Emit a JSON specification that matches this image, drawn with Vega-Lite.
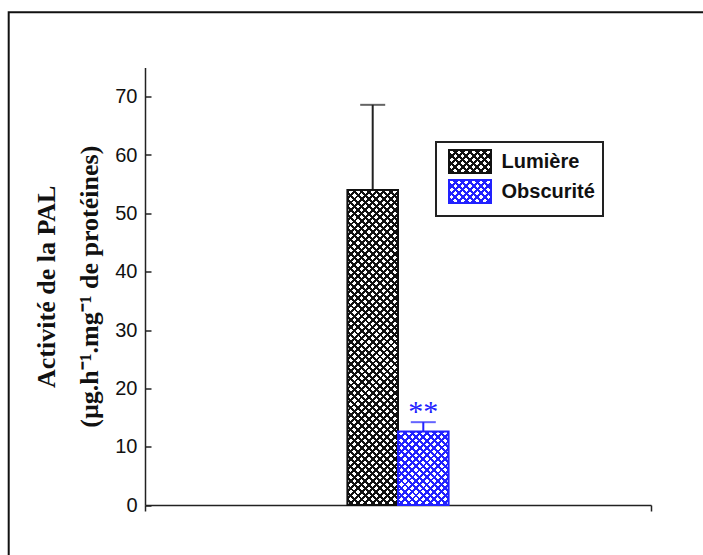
{
  "$schema": "https://vega.github.io/schema/vega-lite/v6.json",
  "width": 506,
  "height": 437.5,
  "autosize": {"type": "none"},
  "padding": {"left": 145, "top": 67.5, "right": 52, "bottom": 50},
  "background": "white",
  "config": {"view": {"stroke": null}, "axis": {"grid": false}, "legend": {"strokeWidth": 2}},
  "params": [
    {"name": "stK", "value": [
{"offset":0,"color":"#111"},{"offset":0.008,"color":"#111"},{"offset":0.008,"color":"#0000"},{"offset":0.02,"color":"#0000"},
{"offset":0.02,"color":"#111"},{"offset":0.028,"color":"#111"},{"offset":0.028,"color":"#0000"},{"offset":0.04,"color":"#0000"},
{"offset":0.04,"color":"#111"},{"offset":0.048,"color":"#111"},{"offset":0.048,"color":"#0000"},{"offset":0.06,"color":"#0000"},
{"offset":0.06,"color":"#111"},{"offset":0.068,"color":"#111"},{"offset":0.068,"color":"#0000"},{"offset":0.08,"color":"#0000"},
{"offset":0.08,"color":"#111"},{"offset":0.088,"color":"#111"},{"offset":0.088,"color":"#0000"},{"offset":0.1,"color":"#0000"},
{"offset":0.1,"color":"#111"},{"offset":0.108,"color":"#111"},{"offset":0.108,"color":"#0000"},{"offset":0.12,"color":"#0000"},
{"offset":0.12,"color":"#111"},{"offset":0.128,"color":"#111"},{"offset":0.128,"color":"#0000"},{"offset":0.14,"color":"#0000"},
{"offset":0.14,"color":"#111"},{"offset":0.148,"color":"#111"},{"offset":0.148,"color":"#0000"},{"offset":0.16,"color":"#0000"},
{"offset":0.16,"color":"#111"},{"offset":0.168,"color":"#111"},{"offset":0.168,"color":"#0000"},{"offset":0.18,"color":"#0000"},
{"offset":0.18,"color":"#111"},{"offset":0.188,"color":"#111"},{"offset":0.188,"color":"#0000"},{"offset":0.2,"color":"#0000"},
{"offset":0.2,"color":"#111"},{"offset":0.208,"color":"#111"},{"offset":0.208,"color":"#0000"},{"offset":0.22,"color":"#0000"},
{"offset":0.22,"color":"#111"},{"offset":0.228,"color":"#111"},{"offset":0.228,"color":"#0000"},{"offset":0.24,"color":"#0000"},
{"offset":0.24,"color":"#111"},{"offset":0.248,"color":"#111"},{"offset":0.248,"color":"#0000"},{"offset":0.26,"color":"#0000"},
{"offset":0.26,"color":"#111"},{"offset":0.268,"color":"#111"},{"offset":0.268,"color":"#0000"},{"offset":0.28,"color":"#0000"},
{"offset":0.28,"color":"#111"},{"offset":0.288,"color":"#111"},{"offset":0.288,"color":"#0000"},{"offset":0.3,"color":"#0000"},
{"offset":0.3,"color":"#111"},{"offset":0.308,"color":"#111"},{"offset":0.308,"color":"#0000"},{"offset":0.32,"color":"#0000"},
{"offset":0.32,"color":"#111"},{"offset":0.328,"color":"#111"},{"offset":0.328,"color":"#0000"},{"offset":0.34,"color":"#0000"},
{"offset":0.34,"color":"#111"},{"offset":0.348,"color":"#111"},{"offset":0.348,"color":"#0000"},{"offset":0.36,"color":"#0000"},
{"offset":0.36,"color":"#111"},{"offset":0.368,"color":"#111"},{"offset":0.368,"color":"#0000"},{"offset":0.38,"color":"#0000"},
{"offset":0.38,"color":"#111"},{"offset":0.388,"color":"#111"},{"offset":0.388,"color":"#0000"},{"offset":0.4,"color":"#0000"},
{"offset":0.4,"color":"#111"},{"offset":0.408,"color":"#111"},{"offset":0.408,"color":"#0000"},{"offset":0.42,"color":"#0000"},
{"offset":0.42,"color":"#111"},{"offset":0.428,"color":"#111"},{"offset":0.428,"color":"#0000"},{"offset":0.44,"color":"#0000"},
{"offset":0.44,"color":"#111"},{"offset":0.448,"color":"#111"},{"offset":0.448,"color":"#0000"},{"offset":0.46,"color":"#0000"},
{"offset":0.46,"color":"#111"},{"offset":0.468,"color":"#111"},{"offset":0.468,"color":"#0000"},{"offset":0.48,"color":"#0000"},
{"offset":0.48,"color":"#111"},{"offset":0.488,"color":"#111"},{"offset":0.488,"color":"#0000"},{"offset":0.5,"color":"#0000"},
{"offset":0.5,"color":"#111"},{"offset":0.508,"color":"#111"},{"offset":0.508,"color":"#0000"},{"offset":0.52,"color":"#0000"},
{"offset":0.52,"color":"#111"},{"offset":0.528,"color":"#111"},{"offset":0.528,"color":"#0000"},{"offset":0.54,"color":"#0000"},
{"offset":0.54,"color":"#111"},{"offset":0.548,"color":"#111"},{"offset":0.548,"color":"#0000"},{"offset":0.56,"color":"#0000"},
{"offset":0.56,"color":"#111"},{"offset":0.568,"color":"#111"},{"offset":0.568,"color":"#0000"},{"offset":0.58,"color":"#0000"},
{"offset":0.58,"color":"#111"},{"offset":0.588,"color":"#111"},{"offset":0.588,"color":"#0000"},{"offset":0.6,"color":"#0000"},
{"offset":0.6,"color":"#111"},{"offset":0.608,"color":"#111"},{"offset":0.608,"color":"#0000"},{"offset":0.62,"color":"#0000"},
{"offset":0.62,"color":"#111"},{"offset":0.628,"color":"#111"},{"offset":0.628,"color":"#0000"},{"offset":0.64,"color":"#0000"},
{"offset":0.64,"color":"#111"},{"offset":0.648,"color":"#111"},{"offset":0.648,"color":"#0000"},{"offset":0.66,"color":"#0000"},
{"offset":0.66,"color":"#111"},{"offset":0.668,"color":"#111"},{"offset":0.668,"color":"#0000"},{"offset":0.68,"color":"#0000"},
{"offset":0.68,"color":"#111"},{"offset":0.688,"color":"#111"},{"offset":0.688,"color":"#0000"},{"offset":0.7,"color":"#0000"},
{"offset":0.7,"color":"#111"},{"offset":0.708,"color":"#111"},{"offset":0.708,"color":"#0000"},{"offset":0.72,"color":"#0000"},
{"offset":0.72,"color":"#111"},{"offset":0.728,"color":"#111"},{"offset":0.728,"color":"#0000"},{"offset":0.74,"color":"#0000"},
{"offset":0.74,"color":"#111"},{"offset":0.748,"color":"#111"},{"offset":0.748,"color":"#0000"},{"offset":0.76,"color":"#0000"},
{"offset":0.76,"color":"#111"},{"offset":0.768,"color":"#111"},{"offset":0.768,"color":"#0000"},{"offset":0.78,"color":"#0000"},
{"offset":0.78,"color":"#111"},{"offset":0.788,"color":"#111"},{"offset":0.788,"color":"#0000"},{"offset":0.8,"color":"#0000"},
{"offset":0.8,"color":"#111"},{"offset":0.808,"color":"#111"},{"offset":0.808,"color":"#0000"},{"offset":0.82,"color":"#0000"},
{"offset":0.82,"color":"#111"},{"offset":0.828,"color":"#111"},{"offset":0.828,"color":"#0000"},{"offset":0.84,"color":"#0000"},
{"offset":0.84,"color":"#111"},{"offset":0.848,"color":"#111"},{"offset":0.848,"color":"#0000"},{"offset":0.86,"color":"#0000"},
{"offset":0.86,"color":"#111"},{"offset":0.868,"color":"#111"},{"offset":0.868,"color":"#0000"},{"offset":0.88,"color":"#0000"},
{"offset":0.88,"color":"#111"},{"offset":0.888,"color":"#111"},{"offset":0.888,"color":"#0000"},{"offset":0.9,"color":"#0000"},
{"offset":0.9,"color":"#111"},{"offset":0.908,"color":"#111"},{"offset":0.908,"color":"#0000"},{"offset":0.92,"color":"#0000"},
{"offset":0.92,"color":"#111"},{"offset":0.928,"color":"#111"},{"offset":0.928,"color":"#0000"},{"offset":0.94,"color":"#0000"},
{"offset":0.94,"color":"#111"},{"offset":0.948,"color":"#111"},{"offset":0.948,"color":"#0000"},{"offset":0.96,"color":"#0000"},
{"offset":0.96,"color":"#111"},{"offset":0.968,"color":"#111"},{"offset":0.968,"color":"#0000"},{"offset":0.98,"color":"#0000"},
{"offset":0.98,"color":"#111"},{"offset":0.988,"color":"#111"},{"offset":0.988,"color":"#0000"},{"offset":1,"color":"#0000"}
    ]},
    {"name": "stB", "value": [
{"offset":0,"color":"#22f"},{"offset":0.008,"color":"#22f"},{"offset":0.008,"color":"#0000"},{"offset":0.02,"color":"#0000"},
{"offset":0.02,"color":"#22f"},{"offset":0.028,"color":"#22f"},{"offset":0.028,"color":"#0000"},{"offset":0.04,"color":"#0000"},
{"offset":0.04,"color":"#22f"},{"offset":0.048,"color":"#22f"},{"offset":0.048,"color":"#0000"},{"offset":0.06,"color":"#0000"},
{"offset":0.06,"color":"#22f"},{"offset":0.068,"color":"#22f"},{"offset":0.068,"color":"#0000"},{"offset":0.08,"color":"#0000"},
{"offset":0.08,"color":"#22f"},{"offset":0.088,"color":"#22f"},{"offset":0.088,"color":"#0000"},{"offset":0.1,"color":"#0000"},
{"offset":0.1,"color":"#22f"},{"offset":0.108,"color":"#22f"},{"offset":0.108,"color":"#0000"},{"offset":0.12,"color":"#0000"},
{"offset":0.12,"color":"#22f"},{"offset":0.128,"color":"#22f"},{"offset":0.128,"color":"#0000"},{"offset":0.14,"color":"#0000"},
{"offset":0.14,"color":"#22f"},{"offset":0.148,"color":"#22f"},{"offset":0.148,"color":"#0000"},{"offset":0.16,"color":"#0000"},
{"offset":0.16,"color":"#22f"},{"offset":0.168,"color":"#22f"},{"offset":0.168,"color":"#0000"},{"offset":0.18,"color":"#0000"},
{"offset":0.18,"color":"#22f"},{"offset":0.188,"color":"#22f"},{"offset":0.188,"color":"#0000"},{"offset":0.2,"color":"#0000"},
{"offset":0.2,"color":"#22f"},{"offset":0.208,"color":"#22f"},{"offset":0.208,"color":"#0000"},{"offset":0.22,"color":"#0000"},
{"offset":0.22,"color":"#22f"},{"offset":0.228,"color":"#22f"},{"offset":0.228,"color":"#0000"},{"offset":0.24,"color":"#0000"},
{"offset":0.24,"color":"#22f"},{"offset":0.248,"color":"#22f"},{"offset":0.248,"color":"#0000"},{"offset":0.26,"color":"#0000"},
{"offset":0.26,"color":"#22f"},{"offset":0.268,"color":"#22f"},{"offset":0.268,"color":"#0000"},{"offset":0.28,"color":"#0000"},
{"offset":0.28,"color":"#22f"},{"offset":0.288,"color":"#22f"},{"offset":0.288,"color":"#0000"},{"offset":0.3,"color":"#0000"},
{"offset":0.3,"color":"#22f"},{"offset":0.308,"color":"#22f"},{"offset":0.308,"color":"#0000"},{"offset":0.32,"color":"#0000"},
{"offset":0.32,"color":"#22f"},{"offset":0.328,"color":"#22f"},{"offset":0.328,"color":"#0000"},{"offset":0.34,"color":"#0000"},
{"offset":0.34,"color":"#22f"},{"offset":0.348,"color":"#22f"},{"offset":0.348,"color":"#0000"},{"offset":0.36,"color":"#0000"},
{"offset":0.36,"color":"#22f"},{"offset":0.368,"color":"#22f"},{"offset":0.368,"color":"#0000"},{"offset":0.38,"color":"#0000"},
{"offset":0.38,"color":"#22f"},{"offset":0.388,"color":"#22f"},{"offset":0.388,"color":"#0000"},{"offset":0.4,"color":"#0000"},
{"offset":0.4,"color":"#22f"},{"offset":0.408,"color":"#22f"},{"offset":0.408,"color":"#0000"},{"offset":0.42,"color":"#0000"},
{"offset":0.42,"color":"#22f"},{"offset":0.428,"color":"#22f"},{"offset":0.428,"color":"#0000"},{"offset":0.44,"color":"#0000"},
{"offset":0.44,"color":"#22f"},{"offset":0.448,"color":"#22f"},{"offset":0.448,"color":"#0000"},{"offset":0.46,"color":"#0000"},
{"offset":0.46,"color":"#22f"},{"offset":0.468,"color":"#22f"},{"offset":0.468,"color":"#0000"},{"offset":0.48,"color":"#0000"},
{"offset":0.48,"color":"#22f"},{"offset":0.488,"color":"#22f"},{"offset":0.488,"color":"#0000"},{"offset":0.5,"color":"#0000"},
{"offset":0.5,"color":"#22f"},{"offset":0.508,"color":"#22f"},{"offset":0.508,"color":"#0000"},{"offset":0.52,"color":"#0000"},
{"offset":0.52,"color":"#22f"},{"offset":0.528,"color":"#22f"},{"offset":0.528,"color":"#0000"},{"offset":0.54,"color":"#0000"},
{"offset":0.54,"color":"#22f"},{"offset":0.548,"color":"#22f"},{"offset":0.548,"color":"#0000"},{"offset":0.56,"color":"#0000"},
{"offset":0.56,"color":"#22f"},{"offset":0.568,"color":"#22f"},{"offset":0.568,"color":"#0000"},{"offset":0.58,"color":"#0000"},
{"offset":0.58,"color":"#22f"},{"offset":0.588,"color":"#22f"},{"offset":0.588,"color":"#0000"},{"offset":0.6,"color":"#0000"},
{"offset":0.6,"color":"#22f"},{"offset":0.608,"color":"#22f"},{"offset":0.608,"color":"#0000"},{"offset":0.62,"color":"#0000"},
{"offset":0.62,"color":"#22f"},{"offset":0.628,"color":"#22f"},{"offset":0.628,"color":"#0000"},{"offset":0.64,"color":"#0000"},
{"offset":0.64,"color":"#22f"},{"offset":0.648,"color":"#22f"},{"offset":0.648,"color":"#0000"},{"offset":0.66,"color":"#0000"},
{"offset":0.66,"color":"#22f"},{"offset":0.668,"color":"#22f"},{"offset":0.668,"color":"#0000"},{"offset":0.68,"color":"#0000"},
{"offset":0.68,"color":"#22f"},{"offset":0.688,"color":"#22f"},{"offset":0.688,"color":"#0000"},{"offset":0.7,"color":"#0000"},
{"offset":0.7,"color":"#22f"},{"offset":0.708,"color":"#22f"},{"offset":0.708,"color":"#0000"},{"offset":0.72,"color":"#0000"},
{"offset":0.72,"color":"#22f"},{"offset":0.728,"color":"#22f"},{"offset":0.728,"color":"#0000"},{"offset":0.74,"color":"#0000"},
{"offset":0.74,"color":"#22f"},{"offset":0.748,"color":"#22f"},{"offset":0.748,"color":"#0000"},{"offset":0.76,"color":"#0000"},
{"offset":0.76,"color":"#22f"},{"offset":0.768,"color":"#22f"},{"offset":0.768,"color":"#0000"},{"offset":0.78,"color":"#0000"},
{"offset":0.78,"color":"#22f"},{"offset":0.788,"color":"#22f"},{"offset":0.788,"color":"#0000"},{"offset":0.8,"color":"#0000"},
{"offset":0.8,"color":"#22f"},{"offset":0.808,"color":"#22f"},{"offset":0.808,"color":"#0000"},{"offset":0.82,"color":"#0000"},
{"offset":0.82,"color":"#22f"},{"offset":0.828,"color":"#22f"},{"offset":0.828,"color":"#0000"},{"offset":0.84,"color":"#0000"},
{"offset":0.84,"color":"#22f"},{"offset":0.848,"color":"#22f"},{"offset":0.848,"color":"#0000"},{"offset":0.86,"color":"#0000"},
{"offset":0.86,"color":"#22f"},{"offset":0.868,"color":"#22f"},{"offset":0.868,"color":"#0000"},{"offset":0.88,"color":"#0000"},
{"offset":0.88,"color":"#22f"},{"offset":0.888,"color":"#22f"},{"offset":0.888,"color":"#0000"},{"offset":0.9,"color":"#0000"},
{"offset":0.9,"color":"#22f"},{"offset":0.908,"color":"#22f"},{"offset":0.908,"color":"#0000"},{"offset":0.92,"color":"#0000"},
{"offset":0.92,"color":"#22f"},{"offset":0.928,"color":"#22f"},{"offset":0.928,"color":"#0000"},{"offset":0.94,"color":"#0000"},
{"offset":0.94,"color":"#22f"},{"offset":0.948,"color":"#22f"},{"offset":0.948,"color":"#0000"},{"offset":0.96,"color":"#0000"},
{"offset":0.96,"color":"#22f"},{"offset":0.968,"color":"#22f"},{"offset":0.968,"color":"#0000"},{"offset":0.98,"color":"#0000"},
{"offset":0.98,"color":"#22f"},{"offset":0.988,"color":"#22f"},{"offset":0.988,"color":"#0000"},{"offset":1,"color":"#0000"}
    ]}
  ],
  "data": {"values": [
    {"cond": "Lumière", "cond2": "Lumière", "frame": "cadre", "x0": 4, "x1": 5, "mid": 4.5, "val": 54, "hi": 68.6, "sig": ""},
    {"cond": "Obscurité", "cond2": "Obscurité", "frame": "cadre", "x0": 5, "x1": 6, "mid": 5.5, "val": 12.6, "hi": 14.2, "sig": "**"}
  ]},
  "resolve": {
    "scale": {"fill": "independent", "stroke": "independent"},
    "legend": {"fill": "independent", "stroke": "independent"}
  },
  "layer": [
    {
      "mark": {"type": "point", "filled": true, "opacity": 0},
      "encoding": {
        "x": {"field": "mid", "type": "quantitative", "scale": {"domain": [0, 10], "nice": false, "zero": false},
          "axis": {"values": [0, 10], "labels": false, "title": null, "tickSize": 6, "tickWidth": 1.5, "tickColor": "#222", "domainColor": "#222", "domainWidth": 1.5, "grid": false}},
        "y": {"field": "val", "type": "quantitative", "scale": {"domain": [0, 75], "nice": false},
          "axis": {
            "values": [0, 5, 10, 15, 20, 25, 30, 35, 40, 45, 50, 55, 60, 65, 70, 75],
            "labelExpr": "datum.value % 10 === 0 ? datum.label : ''",
            "tickSize": {"condition": {"test": "datum.value % 10 === 0", "value": -6}, "value": -4},
            "tickWidth": 1.5, "tickColor": "#222", "domainColor": "#222", "domainWidth": 1.5,
            "labelFont": "Liberation Sans", "labelFontSize": 20, "labelColor": "#111", "labelPadding": 14, "labelOverlap": false,
            "title": ["Activité de la PAL", "(µg.h⁻¹.mg⁻¹ de protéines)"],
            "titleFont": "Liberation Serif", "titleFontSize": 26, "titleFontWeight": "bold", "titleColor": "#111",
            "titleX": -99, "titleY": 218.75, "titleAngle": -90, "titleAlign": "center", "titleBaseline": "middle", "titleLineHeight": 43,
            "grid": false
          }},
        "fill": {"field": "cond", "type": "nominal",
          "scale": {"range": [
            {"expr": "{gradient: 'linear', x1: 0, y1: 0, x2: 6.6905, y2: 3.6798, stops: stK}"},
            {"expr": "{gradient: 'linear', x1: 0, y1: 0, x2: 6.6905, y2: 3.6798, stops: stB}"}
          ]},
          "legend": {
            "title": null, "orient": "none", "legendX": 291, "legendY": 74.5, "padding": 8,
            "strokeColor": "#222",
            "symbolType": "M-2,-1.1H2V1.1H-2Z", "symbolSize": 441, "symbolStrokeWidth": 2, "symbolOffset": 14.5, "symbolOpacity": 1,
            "labelFont": "Liberation Sans", "labelFontSize": 20, "labelFontWeight": "bold", "labelColor": "#111", "labelOffset": 20, "rowPadding": -3
          }},
        "stroke": {"field": "cond", "type": "nominal", "scale": {"range": ["#111", "#22f"]},
          "legend": {
            "title": null, "orient": "none", "legendX": 291, "legendY": 74.5, "padding": 8,
            "strokeColor": "#222",
            "symbolType": "M-2,-1.1H2V1.1H-2Z", "symbolSize": 441, "symbolStrokeWidth": 2, "symbolOffset": 14.5, "symbolOpacity": 1,
            "labelFont": "Liberation Sans", "labelFontSize": 20, "labelFontWeight": "bold", "labelColor": "#111", "labelOffset": 20, "rowPadding": -3
          }},
        "shape": {"field": "frame", "type": "nominal",
          "legend": {
            "title": null, "orient": "none", "legendX": -136.3, "legendY": -55.3, "padding": 420,
            "strokeColor": "#111", "labelExpr": "''", "symbolOpacity": 0
          }}
      }
    },
    {
      "mark": {"type": "point", "filled": true, "opacity": 0},
      "encoding": {
        "x": {"field": "mid", "type": "quantitative", "scale": {"domain": [0, 10]}},
        "y": {"field": "val", "type": "quantitative", "scale": {"domain": [0, 75]}},
        "fill": {"field": "cond2", "type": "nominal",
          "scale": {"range": [
            {"expr": "{gradient: 'linear', x1: 1, y1: 0, x2: -5.6905, y2: 3.6798, stops: stK}"},
            {"expr": "{gradient: 'linear', x1: 1, y1: 0, x2: -5.6905, y2: 3.6798, stops: stB}"}
          ]},
          "legend": {
            "title": null, "orient": "none", "legendX": 291, "legendY": 74.5, "padding": 8,
            "symbolType": "M-2,-1.1H2V1.1H-2Z", "symbolSize": 441, "symbolStrokeWidth": 2, "symbolOffset": 14.5, "symbolOpacity": 1,
            "labelFont": "Liberation Sans", "labelFontSize": 20, "labelFontWeight": "bold", "labelColor": "#111", "labelOffset": 20, "rowPadding": -3,
            "labelOpacity": 0
          }},
        "stroke": {"field": "cond2", "type": "nominal", "scale": {"range": ["#111", "#22f"]},
          "legend": {
            "title": null, "orient": "none", "legendX": 291, "legendY": 74.5, "padding": 8,
            "symbolType": "M-2,-1.1H2V1.1H-2Z", "symbolSize": 441, "symbolStrokeWidth": 2, "symbolOffset": 14.5, "symbolOpacity": 1,
            "labelFont": "Liberation Sans", "labelFontSize": 20, "labelFontWeight": "bold", "labelColor": "#111", "labelOffset": 20, "rowPadding": -3,
            "labelOpacity": 0
          }}
      }
    },
    {
      "mark": {"type": "rule", "strokeWidth": 2},
      "encoding": {
        "x": {"field": "mid", "type": "quantitative", "scale": {"domain": [0, 10]}},
        "y": {"field": "val", "type": "quantitative", "scale": {"domain": [0, 75]}},
        "y2": {"field": "hi"},
        "color": {"condition": {"test": "datum.cond === 'Lumière'", "value": "#222"}, "value": "#22f"}
      }
    },
    {
      "transform": [{"filter": "datum.cond === 'Lumière'"}],
      "mark": {"type": "rect", "fill": {"expr": "{gradient: 'linear', x1: 0, y1: 0, x2: 0.18195, y2: 1.13268, stops: stK}"}},
      "encoding": {
        "x": {"field": "x0", "type": "quantitative", "scale": {"domain": [0, 10]}},
        "x2": {"field": "x1"},
        "y": {"field": "val", "type": "quantitative", "scale": {"domain": [0, 75]}},
        "y2": {"datum": 0}
      }
    },
    {
      "transform": [{"filter": "datum.cond === 'Lumière'"}],
      "mark": {"type": "rect", "fill": {"expr": "{gradient: 'linear', x1: 1, y1: 0, x2: 0.81805, y2: 1.13268, stops: stK}"}, "stroke": "#111", "strokeWidth": 2},
      "encoding": {
        "x": {"field": "x0", "type": "quantitative", "scale": {"domain": [0, 10]}},
        "x2": {"field": "x1"},
        "y": {"field": "val", "type": "quantitative", "scale": {"domain": [0, 75]}},
        "y2": {"datum": 0}
      }
    },
    {
      "transform": [{"filter": "datum.cond === 'Obscurité'"}],
      "mark": {"type": "rect", "fill": {"expr": "{gradient: 'linear', x1: 0, y1: 0, x2: 2.3258, y2: 3.3784, stops: stB}"}},
      "encoding": {
        "x": {"field": "x0", "type": "quantitative", "scale": {"domain": [0, 10]}},
        "x2": {"field": "x1"},
        "y": {"field": "val", "type": "quantitative", "scale": {"domain": [0, 75]}},
        "y2": {"datum": 0}
      }
    },
    {
      "transform": [{"filter": "datum.cond === 'Obscurité'"}],
      "mark": {"type": "rect", "fill": {"expr": "{gradient: 'linear', x1: 1, y1: 0, x2: -1.3258, y2: 3.3784, stops: stB}"}, "stroke": "#22f", "strokeWidth": 2},
      "encoding": {
        "x": {"field": "x0", "type": "quantitative", "scale": {"domain": [0, 10]}},
        "x2": {"field": "x1"},
        "y": {"field": "val", "type": "quantitative", "scale": {"domain": [0, 75]}},
        "y2": {"datum": 0}
      }
    },
    {
      "mark": {"type": "tick", "orient": "horizontal", "size": 25, "thickness": 2},
      "encoding": {
        "x": {"field": "mid", "type": "quantitative", "scale": {"domain": [0, 10]}},
        "y": {"field": "hi", "type": "quantitative", "scale": {"domain": [0, 75]}},
        "color": {"condition": {"test": "datum.cond === 'Lumière'", "value": "#222"}, "value": "#22f"}
      }
    },
    {
      "mark": {"type": "text", "font": "Liberation Serif", "fontSize": 30, "color": "#22f", "baseline": "alphabetic", "align": "center", "dy": -1},
      "encoding": {
        "x": {"field": "mid", "type": "quantitative", "scale": {"domain": [0, 10]}},
        "y": {"field": "hi", "type": "quantitative", "scale": {"domain": [0, 75]}},
        "text": {"field": "sig"}
      }
    }
  ]
}
